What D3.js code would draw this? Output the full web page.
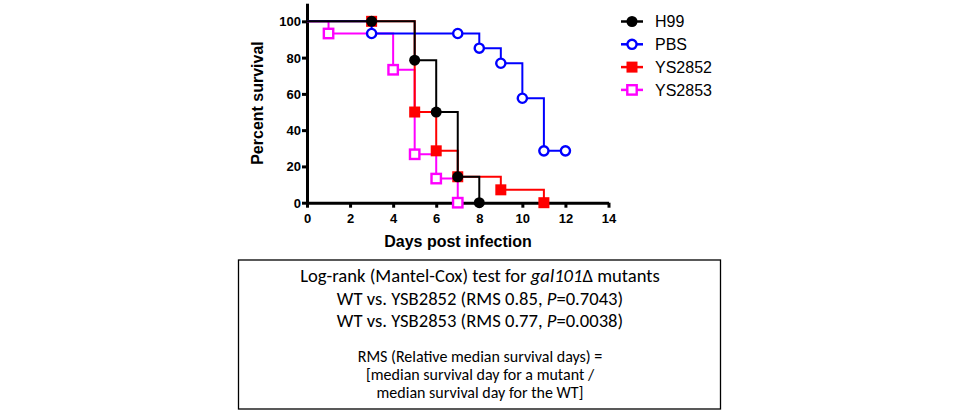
<!DOCTYPE html>
<html>
<head>
<meta charset="utf-8">
<script src="https://cdn.jsdelivr.net/npm/d3@7"></script>
<style>
  body { margin: 0; background: #fff; }
  svg { display: block; }
  .axis path, .axis line { stroke: #000; stroke-width: 3; }
  .axis text { font: bold 13px "Liberation Sans", Arial, sans-serif; fill: #000; }
  .title { font: bold 16px "Liberation Sans", Arial, sans-serif; fill: #000; }
  .legend text { font: 16px "Liberation Sans", Arial, sans-serif; fill: #000; }
  .note { font-family: Carlito, Lato, "Liberation Sans", sans-serif; fill: #000; }
</style>
</head>
<body>
<svg width="960" height="415"></svg>
<script>
// survival data
var seriesNames = ["H99", "PBS", "YS2852", "YS2853"];
var seriesColors = ["#000000", "#0000ff", "#ff0000", "#ff00ff"];
var seriesSymbols = ["circle", "circle", "square", "square"];
var seriesFilled = [true, false, true, false];

var h99Days = [0, 3, 5, 6, 7, 8];
var h99Pct = [100, 100, 78.6, 50, 14.3, 0];
var pbsDays = [0, 3, 7, 8, 9, 10, 11, 12];
var pbsPct = [100, 93.3, 93.3, 85.2, 76.9, 57.6, 28.6, 28.6];
var ys2852Days = [0, 3, 5, 6, 7, 9, 11];
var ys2852Pct = [100, 100, 50, 28.6, 14.3, 7.1, 0];
var ys2853Days = [0, 1, 4, 5, 6, 7];
var ys2853Pct = [100, 93.3, 73.3, 26.7, 13.3, 0];

var xTicks = [0, 2, 4, 6, 8, 10, 12, 14];
var yTicks = [0, 20, 40, 60, 80, 100];

var noteLines = [
  [["Log-rank (Mantel-Cox) test for ", false], ["gal101", true], ["\u0394 mutants", false]],
  [["WT vs. YSB2852 (RMS 0.85, ", false], ["P", true], ["=0.7043)", false]],
  [["WT vs. YSB2853 (RMS 0.77, ", false], ["P", true], ["=0.0038)", false]],
  [["RMS (Relative median survival days) =", false]],
  [["[median survival day for a mutant  /", false]],
  [["median survival day for the  WT]", false]]
];

var svg = d3.select("svg");

var x = d3.scaleLinear().domain([0, 14]).range([307, 608.5]),
    y = d3.scaleLinear().domain([0, 110]).range([202.7, 3.2]);

var series = [
  {name: seriesNames[0], days: h99Days, pct: h99Pct},
  {name: seriesNames[1], days: pbsDays, pct: pbsPct},
  {name: seriesNames[2], days: ys2852Days, pct: ys2852Pct},
  {name: seriesNames[3], days: ys2853Days, pct: ys2853Pct}
].map(function(s, i) {
  s.color = seriesColors[i];
  s.symbol = seriesSymbols[i];
  s.filled = seriesFilled[i];
  s.points = s.days.map(function(d, j) { return {day: d, pct: s.pct[j]}; });
  return s;
});

// axes
svg.append("g")
    .attr("class", "axis")
    .attr("transform", "translate(0," + y(0) + ")")
    .call(d3.axisBottom(x).tickValues(xTicks).tickSize(5).tickSizeOuter(0).tickPadding(5));

svg.append("g")
    .attr("class", "axis")
    .attr("transform", "translate(" + x(0) + ",0)")
    .call(d3.axisLeft(y).tickValues(yTicks).tickSize(5).tickSizeOuter(0).tickPadding(1));

svg.selectAll(".axis .tick text").attr("dy", function() {
  return d3.select(this.parentNode.parentNode).attr("transform").indexOf("translate(0") === 0 ? "0.78em" : "0.34em";
});

svg.append("text")
    .attr("class", "title")
    .attr("text-anchor", "middle")
    .attr("transform", "translate(263,103) rotate(-90)")
    .text("Percent survival");

svg.append("text")
    .attr("class", "title")
    .attr("text-anchor", "middle")
    .attr("x", 458)
    .attr("y", 247)
    .text("Days post infection");

// curves, last series drawn first so H99 ends on top
var line = d3.line()
    .curve(d3.curveStepAfter)
    .x(function(d) { return x(d.day); })
    .y(function(d) { return y(d.pct); });

function drawSymbol(sel, s) {
  if (s.symbol === "circle") {
    sel.append("circle")
        .attr("r", s.filled ? 5.5 : 4.6)
        .attr("fill", s.filled ? s.color : "#fff")
        .attr("stroke", s.color)
        .attr("stroke-width", s.filled ? 0 : 2.4);
  } else {
    var h = s.filled ? 5.5 : 4.7;
    sel.append("rect")
        .attr("x", -h).attr("y", -h)
        .attr("width", 2 * h).attr("height", 2 * h)
        .attr("fill", s.filled ? s.color : "#fff")
        .attr("stroke", s.color)
        .attr("stroke-width", s.filled ? 0 : 2.4);
  }
}

var ordered = series.slice().reverse();
ordered.forEach(function(s) {
  var g = svg.append("g");
  g.append("path")
      .attr("d", line(s.points))
      .attr("fill", "none")
      .attr("stroke", s.color)
      .attr("stroke-width", 2);
  g.selectAll(".pt")
      .data(s.points.slice(1))
      .enter().append("g")
      .attr("class", "pt")
      .attr("transform", function(d) { return "translate(" + x(d.day) + "," + y(d.pct) + ")"; })
      .each(function() { drawSymbol(d3.select(this), s); });
});

// legend
var legend = svg.append("g").attr("class", "legend");
series.forEach(function(s, i) {
  var row = legend.append("g").attr("transform", "translate(632," + (21.5 + i * 22.8) + ")");
  row.append("line")
      .attr("x1", -11).attr("x2", 11)
      .attr("stroke", s.color).attr("stroke-width", 2.5);
  drawSymbol(row.append("g"), s);
  row.append("text")
      .attr("x", 23)
      .attr("dy", "0.36em")
      .text(s.name);
});

// statistics box
svg.append("rect")
    .attr("x", 238.5).attr("y", 260)
    .attr("width", 482).attr("height", 149)
    .attr("fill", "none")
    .attr("stroke", "#000")
    .attr("stroke-width", 1.3);

var noteY = [282, 304.5, 327, 361.5, 379.5, 397.5];
var noteSize = [18.6, 18.6, 18.6, 16, 16, 16];
noteLines.forEach(function(parts, i) {
  var t = svg.append("text")
      .attr("class", "note")
      .attr("text-anchor", "middle")
      .attr("x", 480)
      .attr("y", noteY[i])
      .style("font-size", noteSize[i] + "px");
  parts.forEach(function(p) {
    t.append("tspan")
        .style("font-style", p[1] ? "italic" : "normal")
        .text(p[0]);
  });
});
</script>
</body>
</html>
